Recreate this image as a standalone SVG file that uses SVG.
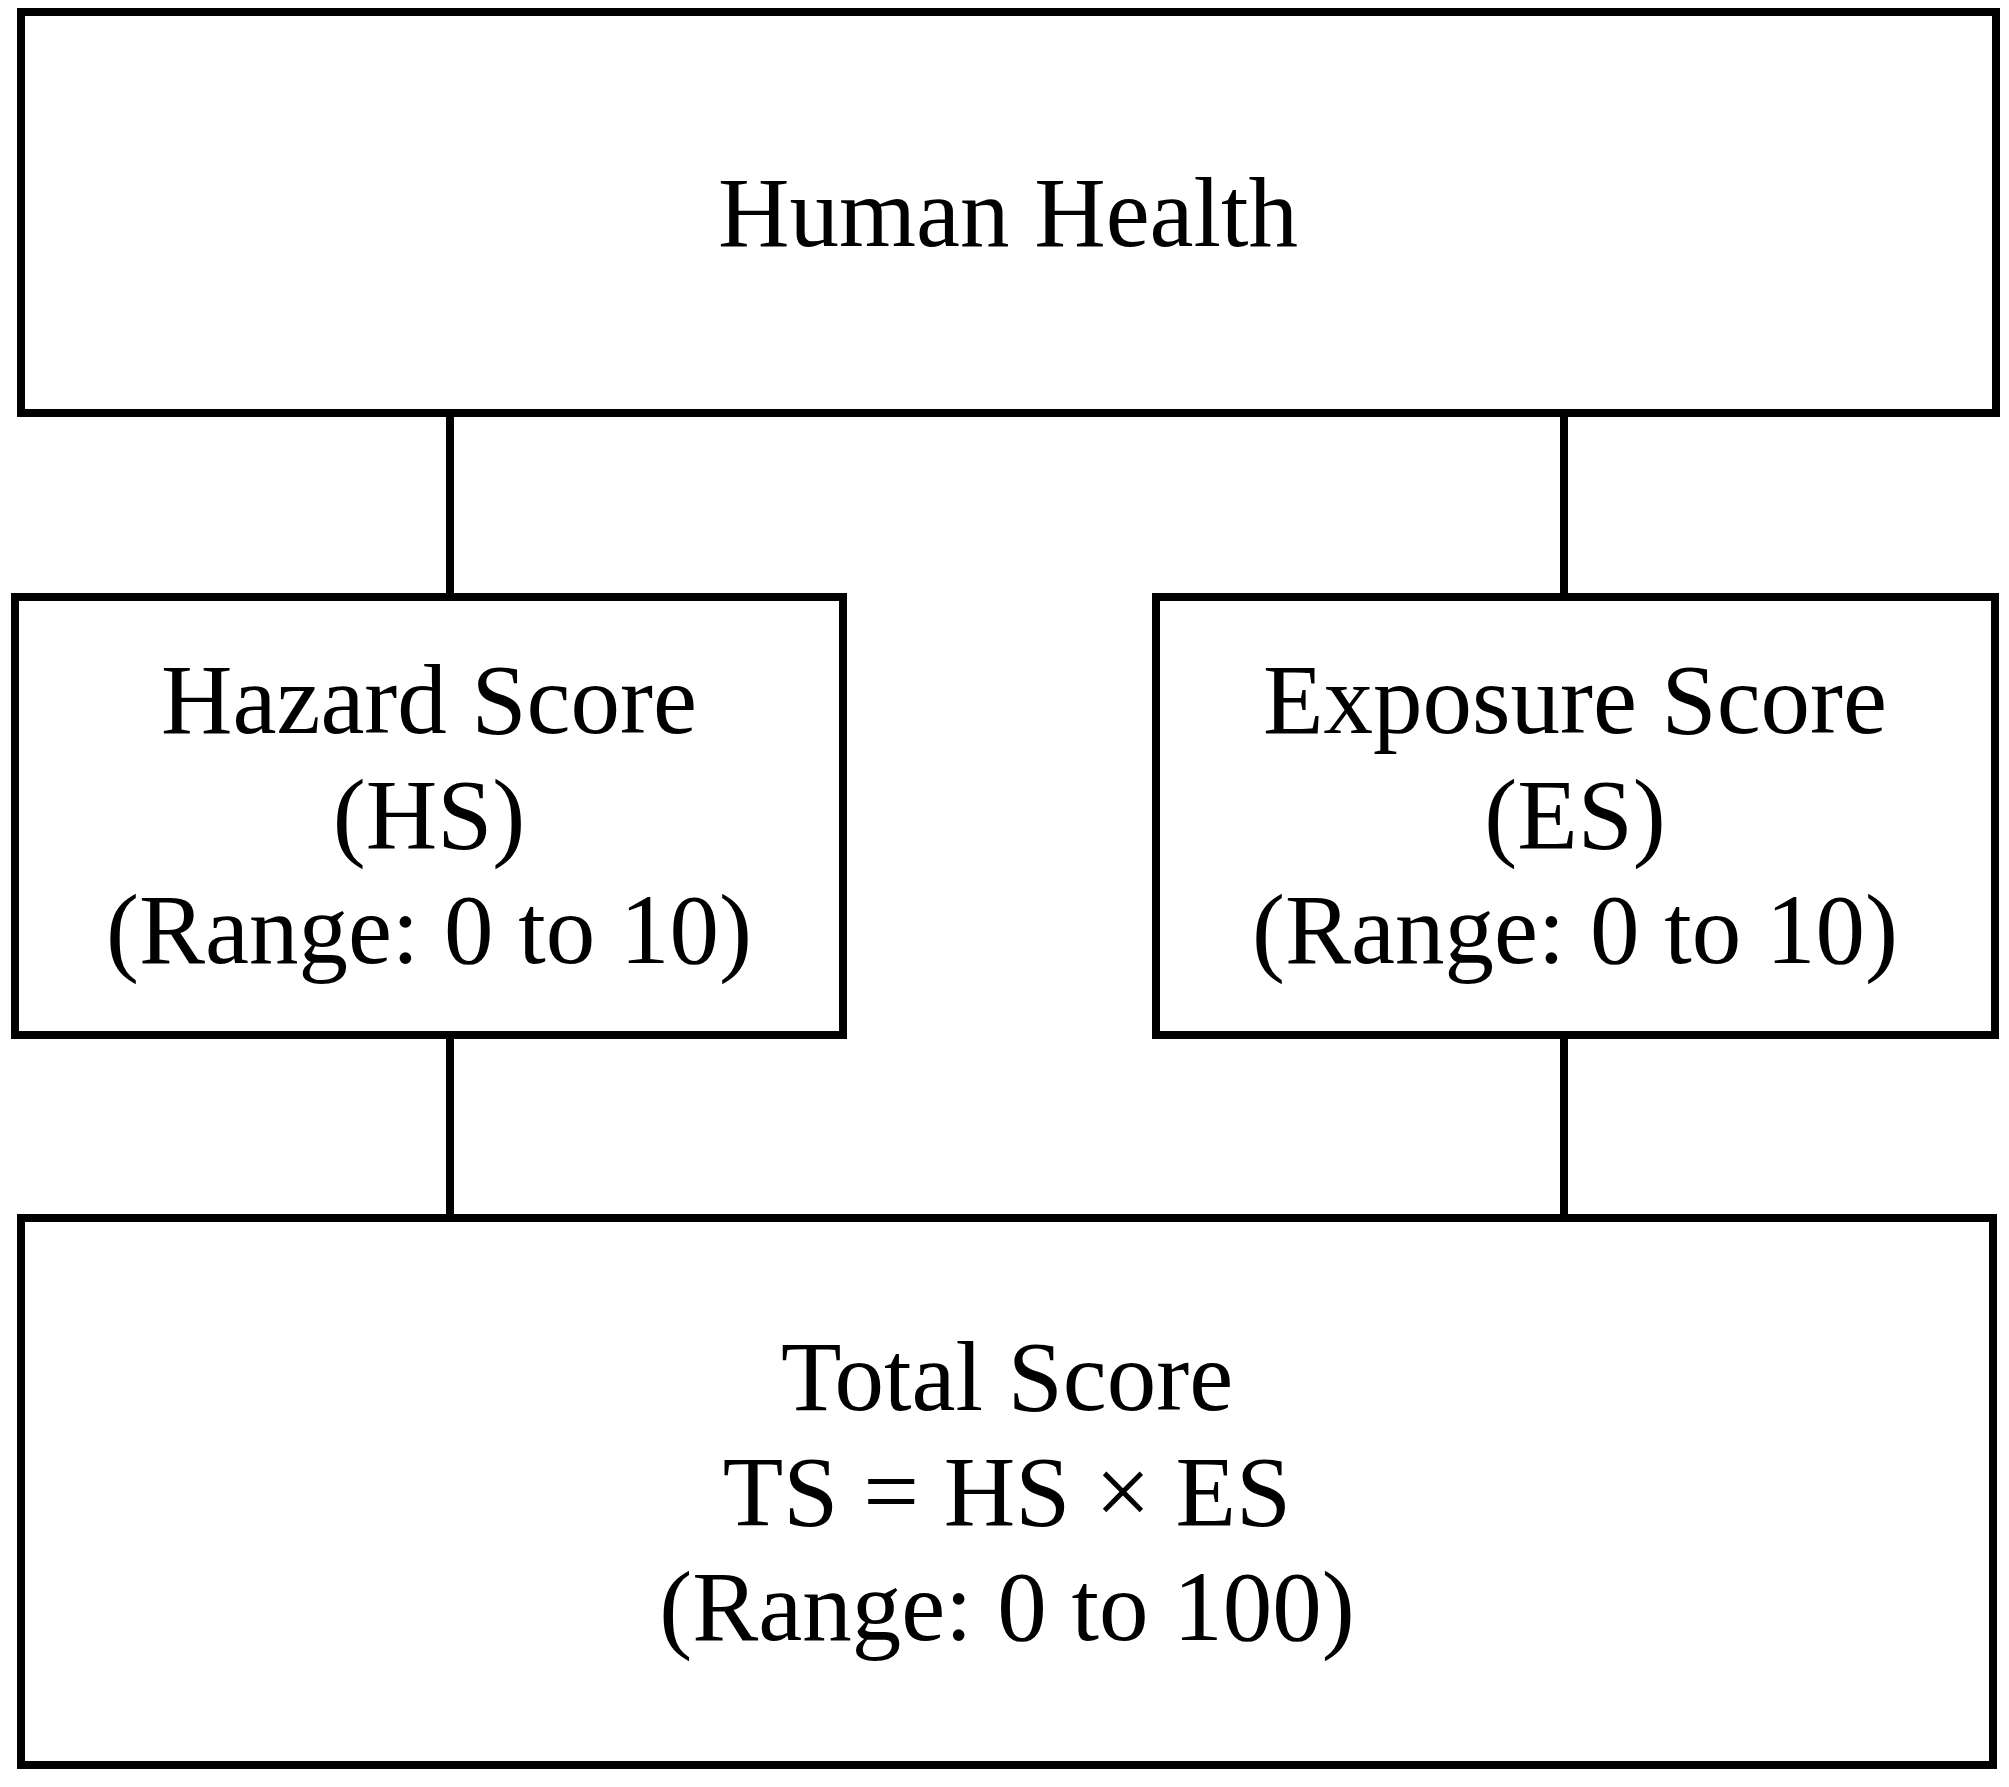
<svg xmlns="http://www.w3.org/2000/svg" width="2009" height="1787" viewBox="0 0 2009 1787">
<style>
.box{fill:#fff;stroke:#000;stroke-width:8}
.con{stroke:#000;stroke-width:8;fill:none}
text{font-family:"Liberation Serif","Times New Roman",serif;font-size:99px;fill:#000;text-anchor:middle}
</style>
<rect width="2009" height="1787" fill="#fff"/>
<g id="connectors">
<line class="con" x1="450" y1="413" x2="450" y2="597"/>
<line class="con" x1="1564" y1="413" x2="1564" y2="597"/>
<line class="con" x1="450" y1="1035" x2="450" y2="1218"/>
<line class="con" x1="1564" y1="1035" x2="1564" y2="1218"/>
</g>
<g id="human-health">
<rect class="box" x="21" y="12" width="1975" height="401"/>
<text x="1008" y="246">Human Health</text>
</g>
<g id="hazard-score">
<rect class="box" x="15" y="597" width="828" height="438"/>
<text x="429" y="733">Hazard Score</text>
<text x="429" y="848">(HS)</text>
<text x="429" y="963">(Range: 0 to 10)</text>
</g>
<g id="exposure-score">
<rect class="box" x="1156" y="597" width="839" height="438"/>
<text x="1575" y="733">Exposure Score</text>
<text x="1575" y="848">(ES)</text>
<text x="1575" y="963">(Range: 0 to 10)</text>
</g>
<g id="total-score">
<rect class="box" x="21" y="1218" width="1972" height="547"/>
<text x="1007" y="1410">Total Score</text>
<text x="1007" y="1525">TS = HS × ES</text>
<text x="1007" y="1640">(Range: 0 to 100)</text>
</g>
</svg>
